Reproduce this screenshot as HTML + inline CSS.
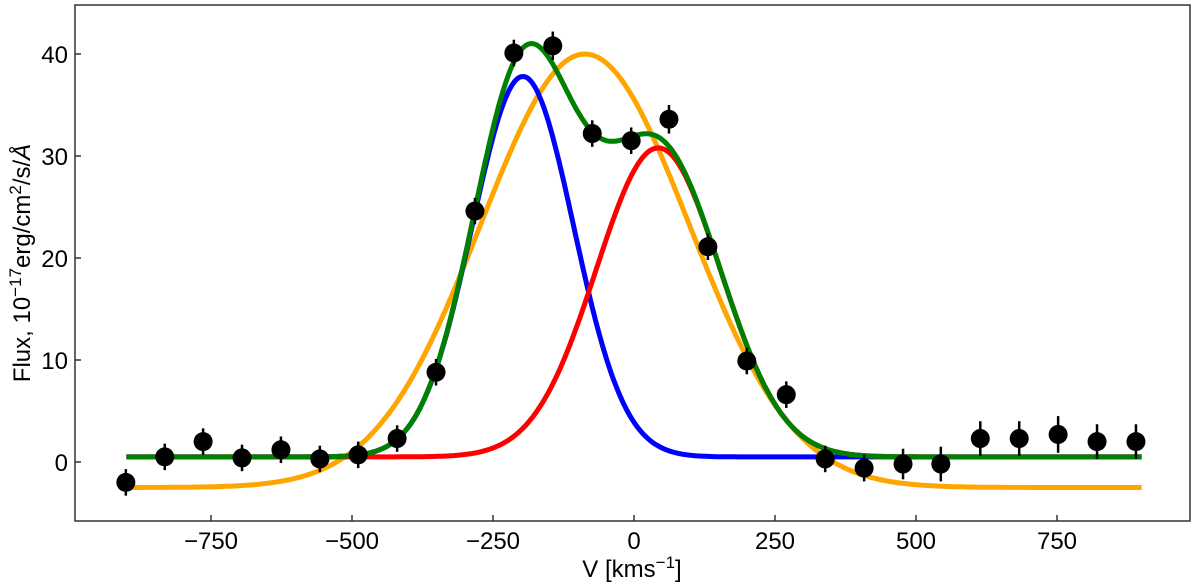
<!DOCTYPE html>
<html><head><meta charset="utf-8"><style>
body{margin:0;background:#fff}
svg{display:block;font-family:"Liberation Sans","DejaVu Sans",sans-serif}
</style></head><body>
<svg id="chart" width="1200" height="584">
<g id="plot"></g>
<rect x="75" y="5" width="1115" height="516" fill="none" stroke="#333" stroke-width="1.5"/>
<g id="xt"></g>
<g id="yt"></g>
<text x="632" y="577" font-size="24" text-anchor="middle">V [kms<tspan dy="-9" font-size="17">−1</tspan><tspan dy="9">]</tspan></text>
<text transform="translate(30,263) rotate(-90)" font-size="24" text-anchor="middle">Flux, 10<tspan dy="-9" font-size="17">−17</tspan><tspan dy="9">erg/cm</tspan><tspan dy="-9" font-size="17">2</tspan><tspan dy="9">/s/</tspan><tspan font-style="italic">Å</tspan></text>
</svg>
<script>
const velocities=[-901,-832,-764,-695,-626,-557,-489,-420,-351,-282,-213,-144,-74,-5,62,131,200,270,339,408,477,544,614,683,752,821,890];
const fluxes=[-2.0,0.5,2.0,0.4,1.2,0.3,0.7,2.3,8.8,24.6,40.1,40.8,32.2,31.5,33.6,21.1,9.9,6.6,0.3,-0.6,-0.2,-0.2,2.3,2.3,2.7,2.0,2.0];
const errors=[1.3,1.3,1.3,1.3,1.3,1.3,1.3,1.3,1.3,1.3,1.3,1.4,1.3,1.3,1.4,1.3,1.3,1.3,1.3,1.3,1.5,1.7,1.7,1.7,1.8,1.7,1.7];
const blueFit=[0.5,37.3,-197,90];
const redFit=[0.5,30.3,43,110];
const orangeFit=[-2.5,42.5,-87,185];
const xTicks=[-750,-500,-250,0,250,500,750];
const yTicks=[0,10,20,30,40];
const NS='http://www.w3.org/2000/svg';
const X=v=>634+v*141/250, Y=f=>462-f*10.2;
const plot=document.getElementById('plot');
function mk(tag,a,p){const e=document.createElementNS(NS,tag);for(const k in a)e.setAttribute(k,a[k]);(p||plot).appendChild(e);return e;}
const g=(p,v)=>Math.exp(-0.5*((v-p[2])/p[3])**2)*p[1];
function curve(fn,color,name){let d='';for(let v=-900;v<=900;v+=4)d+=(d?'L':'M')+X(v).toFixed(1)+','+Y(fn(v)).toFixed(1);
const p=mk('path',{d:d,fill:'none',stroke:color,'stroke-width':5});

}
curve(v=>orangeFit[0]+g(orangeFit,v),'#ffa500','single-gaussian-fit');
curve(v=>blueFit[0]+g(blueFit,v),'#0000ff','blue-component');
curve(v=>redFit[0]+g(redFit,v),'#ff0000','red-component');
curve(v=>blueFit[0]+g(blueFit,v)+g(redFit,v),'#008000','total-fit');
velocities.forEach((v,i)=>{
const l=mk('line',{x1:X(v),x2:X(v),y1:Y(fluxes[i]-errors[i]),y2:Y(fluxes[i]+errors[i]),stroke:'#000','stroke-width':2.5});


const c=mk('circle',{cx:X(v),cy:Y(fluxes[i]),r:9.5,fill:'#000'});

});
const xt=document.getElementById('xt'),yt=document.getElementById('yt');
xTicks.forEach(t=>{const x=X(t);mk('line',{x1:x,x2:x,y1:521,y2:515,stroke:'#333','stroke-width':1.5},xt);
const s=mk('text',{x:x,y:549,'font-size':24,'text-anchor':'middle'},xt);s.textContent=t<0?'−'+(-t):t;

});
yTicks.forEach(t=>{const y=Y(t);mk('line',{x1:75,x2:81,y1:y,y2:y,stroke:'#333','stroke-width':1.5},yt);
const s=mk('text',{x:68,y:y+9,'font-size':24,'text-anchor':'end'},yt);s.textContent=t;

});
</script>
</body></html>
